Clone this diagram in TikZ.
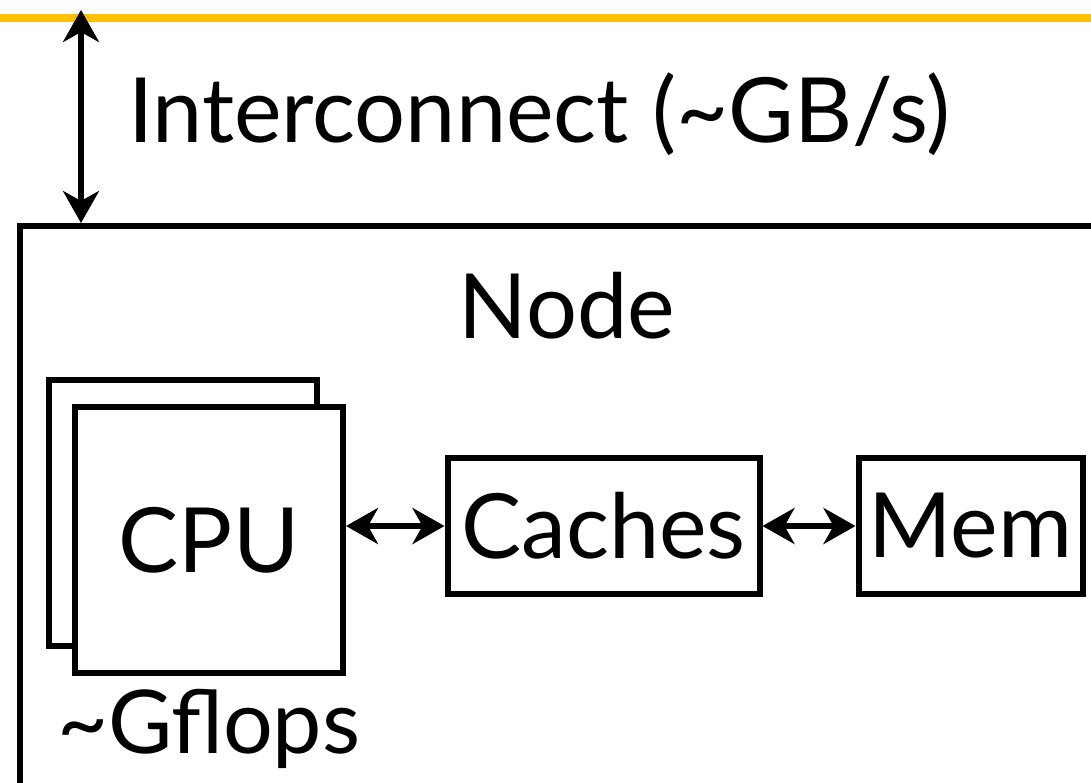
\documentclass[tikz,border=0pt]{standalone}
\usepackage{fontspec}
\setmainfont{Lato}
\usetikzlibrary{positioning,arrows.meta}
\definecolor{barorange}{HTML}{FFC000}

\begin{document}
\begin{tikzpicture}[x=0.5pt, y=-0.5pt,
    box/.style={draw, line width=3pt, inner sep=0pt, fill=white},
    biarrow/.style={{Stealth[length=16pt,width=18pt,inset=5pt]}-{Stealth[length=16pt,width=18pt,inset=5pt]}, line width=3pt},
    bigtext/.style={font=\fontsize{45}{50}\selectfont},
    smalltext/.style={font=\fontsize{44}{48}\selectfont}]
  \useasboundingbox (0,0) rectangle (1091,782);
  \clip (0,0) rectangle (1091,782);

  % bus line
  \draw[barorange, line width=3.8pt] (0,18) -- (1091,18);
  \coordinate (bus) at (81,10);

  % compute node frame
  \draw[line width=3pt] (20,226) rectangle (1140,840);
  \coordinate (frametop) at (81,223);
  \node[bigtext, anchor=base] (nodelabel) at (567,338) {Node};

  % interconnect
  \draw[biarrow] (bus) -- (frametop);
  \node[bigtext, anchor=base west] (interconnect) at (121,142) {Interconnect (\textasciitilde GB/s)};

  % cpus
  \node[box, minimum width=134pt, minimum height=133pt] (cpuback) at (182.5,513) {};
  \node[box, bigtext, minimum width=134pt, minimum height=133pt] (cpu) at (209,540) {CPU};
  \node[smalltext, anchor=base west] (gflops) at (50,753) {\textasciitilde Gflops};

  % memory hierarchy
  \node[box, bigtext, minimum width=156pt, minimum height=68pt] (caches) at (603.5,526) {Caches};
  \node[box, bigtext, minimum width=112pt, minimum height=68pt] (mem) at (970.5,526) {Mem};

  \draw[biarrow] (cpu.east |- caches.west) -- (caches.west);
  \draw[biarrow] (caches.east) -- (mem.west);
\end{tikzpicture}
\end{document}
